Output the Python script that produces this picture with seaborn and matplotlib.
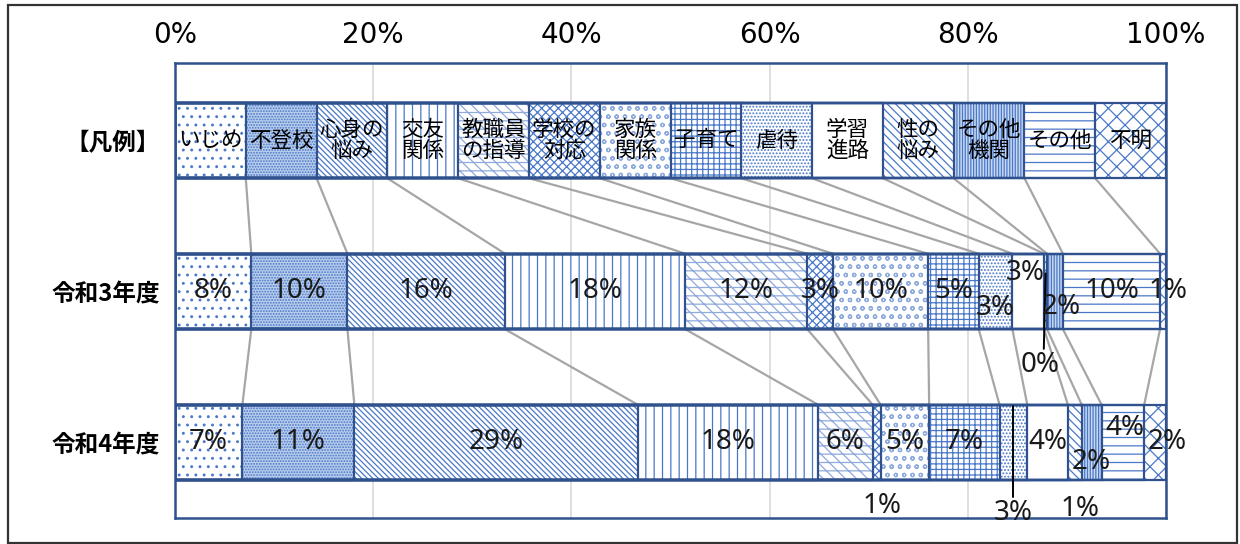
import matplotlib
matplotlib.use("Agg")
import matplotlib.pyplot as plt
from matplotlib.patches import Rectangle
import seaborn as sns
import numpy as np
import pandas as pd

# ---- data -------------------------------------------------------------
categories = ["いじめ", "不登校", "心身の悩み", "交友関係", "教職員の指導", "学校の対応",
              "家族関係", "子育て", "虐待", "学習進路", "性の悩み", "その他機関", "その他", "不明"]
legend_labels = ["いじめ", "不登校", "心身の\n悩み", "交友\n関係", "教職員\nの指導", "学校の\n対応",
                 "家族\n関係", "子育て", "虐待", "学習\n進路", "性の\n悩み", "その他\n機関", "その他", "不明"]
rows = ["【凡例】", "令和3年度", "令和4年度"]
share_r3 = [7.7, 9.7, 15.9, 18.2, 12.3, 2.6, 9.6, 5.1, 3.4, 3.2, 0.3, 1.6, 9.8, 0.6]
share_r4 = [6.8, 11.3, 28.6, 18.2, 5.5, 0.8, 4.9, 7.1, 2.8, 4.1, 1.4, 2.0, 4.3, 2.2]
share_legend = [100 / len(categories)] * len(categories)
x_ticks = [0, 20, 40, 60, 80, 100]

# ---- styling ----------------------------------------------------------
HATCH_BLUE = "#4A78C8"
HATCH_LIGHT = "#8FAADC"
EDGE_NAVY = "#2F528F"
fills = ["white", "#B9CDEC", "white", "white", "white", "white", "white",
         "white", "white", "white", "white", "#C9D8F0", "white", "white"]
hatches = ["..", "......", "\\" * 6, "||", "\\\\\\--", "xxxx", "oo",
           "+++", ".....", None, "\\\\\\\\", "||||||", "--", "xx"]
hatch_colors = [HATCH_BLUE, HATCH_BLUE, HATCH_BLUE, HATCH_BLUE, HATCH_LIGHT, HATCH_BLUE,
                HATCH_LIGHT, HATCH_BLUE, HATCH_BLUE, HATCH_BLUE, HATCH_BLUE, HATCH_BLUE,
                HATCH_BLUE, HATCH_BLUE]
NUM_FONT = ["Noto Sans", "DejaVu Sans"]

sns.set_theme(style="white")
plt.rcParams["font.family"] = ["Noto Sans CJK JP", "DejaVu Sans"]
plt.rcParams["hatch.linewidth"] = 0.9

# ---- long table with cumulative ends -----------------------------------
records = []
for row, shares in zip(rows, [share_legend, share_r3, share_r4]):
    ends = np.cumsum(shares)
    starts = ends - np.array(shares)
    for cat, v, s, e in zip(categories, shares, starts, ends):
        records.append(dict(row=row, category=cat, value=v, start=s, end=e))
df = pd.DataFrame(records)

fig = plt.figure(figsize=(12.4, 5.44), dpi=100)
ax = fig.add_axes([175 / 1240, 1 - 518 / 544, 991 / 1240, 455 / 544])

# stacked bars: draw cumulative totals from the longest to the shortest
for i in reversed(range(len(categories))):
    sub = df[df["category"] == categories[i]]
    sns.barplot(data=sub, x="end", y="row", order=rows, orient="h", width=0.5,
                color=fills[i], saturation=1, hatch=hatches[i],
                edgecolor=hatch_colors[i], linewidth=0, errorbar=None, ax=ax, zorder=2)
for i in range(len(categories)):
    sub = df[df["category"] == categories[i]]
    sns.barplot(data=sub, x="end", y="row", order=rows, orient="h", width=0.5,
                fill=False, color=EDGE_NAVY, linewidth=1.6, errorbar=None,
                ax=ax, zorder=3)

# series lines between neighbouring bars
half = 0.25
for k in range(len(rows) - 1):
    a = df[df["row"] == rows[k]]["end"].to_numpy()
    b = df[df["row"] == rows[k + 1]]["end"].to_numpy()
    for xa, xb in zip(a[:-1], b[:-1]):
        ax.plot([xa, xb], [k + half, k + 1 - half], color="#A6A6A6", lw=1.6, zorder=1.5)

# legend row captions
leg = df[df["row"] == rows[0]]
for (_, r), lab in zip(leg.iterrows(), legend_labels):
    ax.text((r["start"] + r["end"]) / 2, 0, lab, ha="center", va="center",
            fontsize=15.5, linespacing=0.92, color="black", zorder=5)

# value labels: (dx, dy, leader) tweaks for crowded segments
tweaks = {
    ("令和3年度", "虐待"): (0, 0.11, False),
    ("令和3年度", "学習進路"): (-0.3, -0.12, False),
    ("令和3年度", "性の悩み"): (-0.6, 0.49, True),
    ("令和3年度", "その他機関"): (0.6, 0.1, False),
    ("令和3年度", "不明"): (0.5, 0, False),
    ("令和4年度", "学校の対応"): (0.5, 0.42, False),
    ("令和4年度", "虐待"): (0, 0.47, True),
    ("令和4年度", "性の悩み"): (0.5, 0.44, False),
    ("令和4年度", "その他機関"): (0, 0.13, False),
    ("令和4年度", "その他"): (0.2, -0.095, False),
    ("令和4年度", "不明"): (1.2, 0, False),
}
for yi, row in enumerate(rows[1:], start=1):
    part = df[df["row"] == row]
    for _, r in part.iterrows():
        cx = (r["start"] + r["end"]) / 2
        dx, dy, leader = tweaks.get((row, r["category"]), (0, 0, False))
        ax.text(cx + dx, yi + dy, f"{r['value']:.0f}%", ha="center", va="center",
                fontsize=20, color="#1a1a1a", zorder=6, family=NUM_FONT)
        if leader:
            ax.plot([cx + dx * 0.3, cx], [yi + dy - 0.11, yi - 0.12 if dy > 0.48 else yi - 0.24],
                    color="black", lw=1.4, zorder=6)

# axes
ax.set_xlim(0, 100)
ax.set_ylim(2.5, -0.513)
ax.xaxis.tick_top()
ax.set_xticks(x_ticks)
ax.set_xticklabels([f"{t}%" for t in x_ticks], fontsize=20, fontweight="medium",
                   family=["DejaVu Sans"])
ax.tick_params(axis="x", length=0, pad=10, colors="black")
ax.tick_params(axis="y", length=0, pad=11)
for lab in ax.get_yticklabels():
    lab.set_fontsize(17)
    lab.set_fontweight("bold")
    lab.set_color("black")
ax.set_xlabel("")
ax.set_ylabel("")
ax.grid(axis="x", color="#D9D9D9", lw=1.2)
ax.grid(axis="y", visible=False)
ax.set_axisbelow(True)
for s in ax.spines.values():
    s.set_visible(True)
    s.set_color(EDGE_NAVY)
    s.set_linewidth(1.8)

# frame around the whole figure
fig.patches.append(Rectangle((8 / 1240, 1 / 544), 1229 / 1240, 538 / 544,
                             transform=fig.transFigure, fill=False,
                             edgecolor="#333333", lw=1.6))

fig.savefig("out.png", dpi=100)
